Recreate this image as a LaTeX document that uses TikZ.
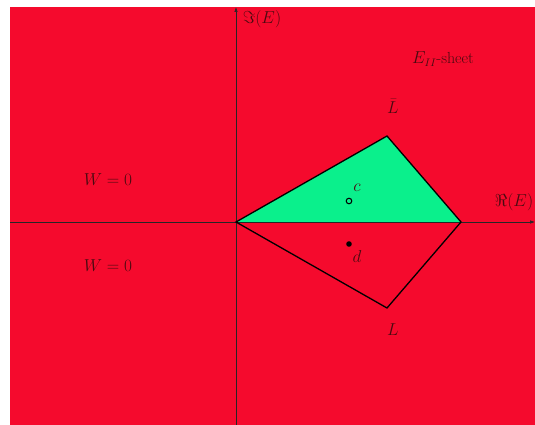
\documentclass[tikz,border=0pt]{standalone}
\usepackage{amsmath,amssymb}
\usepackage{xcolor}
\usetikzlibrary{arrows.meta}
\definecolor{sheetRed}{HTML}{F50A2D}
\definecolor{sheetGreen}{HTML}{0AF08C}
\definecolor{labelInk}{HTML}{4A0A10}

\begin{document}
\begin{tikzpicture}[x=1pt, y=-1pt, font=\fontsize{16}{19}\selectfont]
  \useasboundingbox (0,0) rectangle (535,425);
  % background of the sheet
  \fill[sheetRed] (10,7) rectangle (535,425);
  % corners of the region
  \coordinate (O) at (236,222);
  \coordinate (Lb) at (387,136);
  \coordinate (R) at (461,222);
  \coordinate (Lw) at (387,308);
  % upper triangle (green)
  \fill[sheetGreen] (O) -- (Lb) -- (R) -- cycle;
  % axes
  \coordinate (xl) at (10,222);
  \coordinate (xr) at (535,222);
  \coordinate (yb) at (236,425);
  \coordinate (yt) at (236,7);
  \draw[black!85, line width=0.6pt, -{Latex[length=5pt,width=3.5pt]}] (xl) -- (xr);
  \draw[black!85, line width=0.6pt, -{Latex[length=5pt,width=3.5pt]}] (yb) -- (yt);
  \node[labelInk] (re) at (514,202) {$\Re(E)$};
  \node[labelInk] (im) at (262,19) {$\Im(E)$};
  % outline
  \draw[black, line width=1.3pt] (O) -- (Lb) -- (R) -- (Lw) -- cycle;
  \node[labelInk] (lbar) at (393,106) {$\bar L$};
  \node[labelInk] (lw) at (393,330) {$L$};
  % points c and d
  \draw[black, line width=1pt] (349,201) circle (2.8);
  \node[labelInk] (c) at (357,188) {$c$};
  \fill[black] (349,244) circle (2.8);
  \node[labelInk] (d) at (357,256) {$d$};
  % labels of the sheet
  \node[labelInk] (w1) at (108,180) {$W=0$};
  \node[labelInk] (w2) at (108,266) {$W=0$};
  \node[labelInk] (sheet) at (443,59) {$E_{II}$-sheet};
\end{tikzpicture}
\end{document}
